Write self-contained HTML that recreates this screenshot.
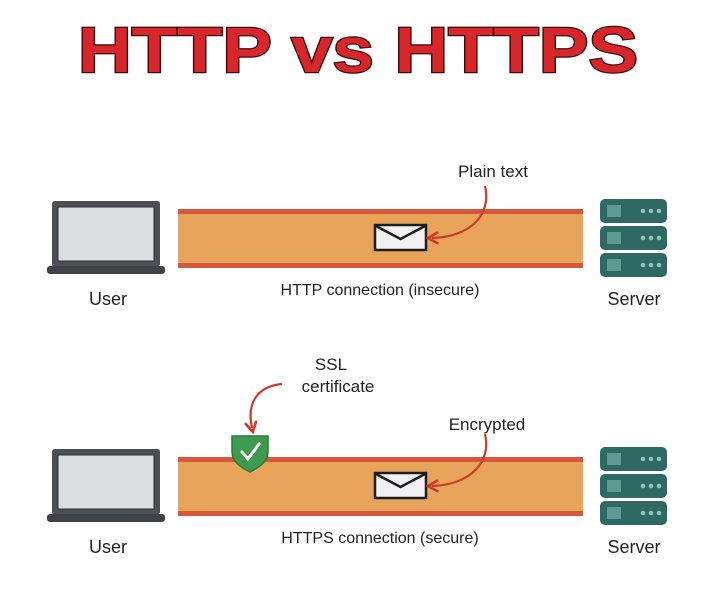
<!DOCTYPE html>
<html><head><meta charset="utf-8"><style>
html,body{margin:0;padding:0;background:#fff;}
svg{display:block}
text{font-family:"Liberation Sans",sans-serif;fill:#222}
</style></head><body>
<svg width="720" height="596" viewBox="0 0 720 596" xmlns="http://www.w3.org/2000/svg">
<defs>
<marker id="ah" viewBox="0 0 10 10" refX="5" refY="5" markerWidth="6" markerHeight="6" orient="auto-start-reverse">
<path d="M1 1 L8 5 L1 9" fill="none" stroke="#cf3b2b" stroke-width="2" stroke-linecap="round"/>
</marker>
<g id="laptop">
<rect x="52" y="0" width="108" height="66" rx="3" fill="#4b4e53"/>
<rect x="58" y="6" width="96" height="54" fill="#dcdee1" stroke="#2c2e31" stroke-width="1"/>
<rect x="47" y="65" width="118" height="8" rx="3" fill="#3f4246"/>
</g>
<g id="srvunit">
<rect x="0" y="0" width="67" height="24" rx="5" fill="#2f6964"/>
<g fill="#5f9a93"><rect x="7" y="6" width="14" height="12"/></g>
<circle cx="43" cy="12" r="2.3" fill="#8fc1ba"/><circle cx="51" cy="12" r="2.3" fill="#8fc1ba"/><circle cx="59" cy="12" r="2.3" fill="#8fc1ba"/>
</g>
<g id="env">
<rect x="0" y="0" width="51" height="25" fill="#f1f1f4" stroke="#1d1d1d" stroke-width="2.5"/>
<path d="M1 1 L25.5 14 L50 1" fill="none" stroke="#1d1d1d" stroke-width="2.5"/>
</g>
</defs>

<text x="78" y="72" font-size="64" font-weight="bold" textLength="560" lengthAdjust="spacingAndGlyphs" style="fill:#d9262b;stroke:#3a0d0d;stroke-width:2.5;paint-order:stroke" >HTTP vs HTTPS</text>

<!-- top pipe -->
<rect x="178" y="211" width="405" height="55" fill="#e8a45a"/>
<rect x="178" y="209" width="405" height="5" fill="#d7573b"/>
<rect x="178" y="263" width="405" height="5" fill="#d7573b"/>
<use href="#laptop" y="201"/>
<use href="#srvunit" x="600" y="199"/><use href="#srvunit" x="600" y="226"/><use href="#srvunit" x="600" y="253"/>
<use href="#env" x="375" y="225"/>
<path d="M485 186 C492 215 470 237 432 238" fill="none" stroke="#cf3b2b" stroke-width="2.2" marker-end="url(#ah)"/>
<text x="493" y="177" font-size="17" text-anchor="middle">Plain text</text>
<text x="380" y="295" font-size="16" text-anchor="middle">HTTP connection (insecure)</text>
<text x="108" y="305" font-size="18" text-anchor="middle">User</text>
<text x="634" y="305" font-size="18" text-anchor="middle">Server</text>

<!-- bottom pipe -->
<rect x="178" y="459" width="405" height="55" fill="#e8a45a"/>
<rect x="178" y="457" width="405" height="5" fill="#d7573b"/>
<rect x="178" y="511" width="405" height="5" fill="#d7573b"/>
<use href="#laptop" y="449"/>
<use href="#srvunit" x="600" y="447"/><use href="#srvunit" x="600" y="474"/><use href="#srvunit" x="600" y="501"/>
<use href="#env" x="375" y="473"/>
<path d="M232 436 L268 436 L268 452 C268 462 258 468 250 472 C242 468 232 462 232 452 Z" fill="#3e9a4f" stroke="#2b7a3b" stroke-width="1.5"/>
<path d="M242 452 L248 459 L259 444" fill="none" stroke="#fff" stroke-width="3" stroke-linecap="round" stroke-linejoin="round"/>
<path d="M282 384 C260 386 246 400 252 428" fill="none" stroke="#cf3b2b" stroke-width="2.2" marker-end="url(#ah)"/>
<path d="M485 434 C492 462 470 485 432 486" fill="none" stroke="#cf3b2b" stroke-width="2.2" marker-end="url(#ah)"/>
<text x="331" y="370" font-size="17" text-anchor="middle">SSL</text>
<text x="338" y="392" font-size="17" text-anchor="middle">certificate</text>
<text x="487" y="430" font-size="17" text-anchor="middle">Encrypted</text>
<text x="380" y="543" font-size="16" text-anchor="middle">HTTPS connection (secure)</text>
<text x="108" y="553" font-size="18" text-anchor="middle">User</text>
<text x="634" y="553" font-size="18" text-anchor="middle">Server</text>
</svg>
</body></html>
